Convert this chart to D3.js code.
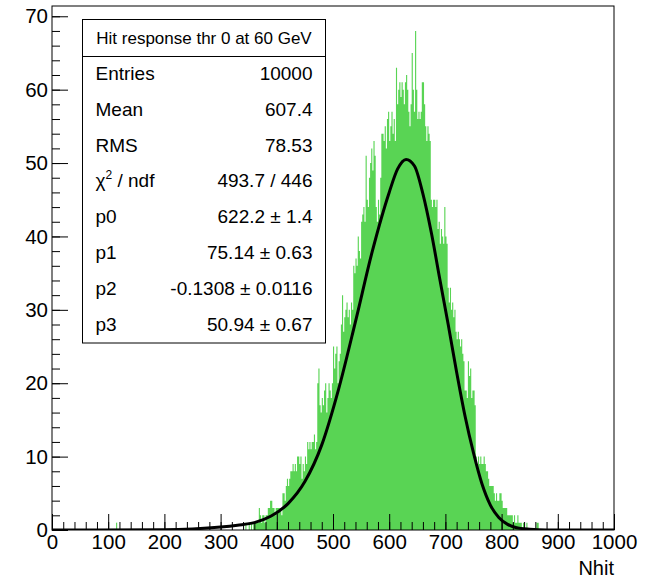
<!DOCTYPE html>
<html>
<head>
<meta charset="utf-8">
<script src="https://cdn.jsdelivr.net/npm/d3@7/dist/d3.min.js"></script>
<style>
  body { margin: 0; background: #fff; }
  svg { font-family: "Liberation Sans", Arial, Helvetica, sans-serif; }
</style>
</head>
<body>
<svg width="653" height="578"></svg>
<script>
// histogram: bins of 2 Nhit starting at 340
const binStart = 340;
const binWidth = 2;
const counts = [
  0,0,1,0,0,1,0,1,0,1,
  1,1,1,1,3,2,1,2,2,1,
  2,2,3,3,4,4,3,3,2,3,
  3,3,3,3,2,5,5,4,6,7,
  6,7,8,8,9,8,9,8,10,10,
  9,10,7,9,8,10,9,12,11,12,
  11,12,12,13,11,12,20,22,17,16,
  18,17,19,20,16,18,20,19,18,20,
  25,22,24,25,20,23,24,28,32,27,
  29,30,31,29,30,28,31,30,36,35,
  37,36,40,38,37,42,43,44,42,51,
  45,44,48,50,52,49,53,51,44,42,
  45,43,48,54,54,53,55,52,56,57,
  53,55,57,54,56,53,63,58,60,61,
  59,61,60,58,61,62,60,57,55,58,
  65,60,57,68,60,56,57,56,57,61,
  61,58,55,53,55,54,53,45,44,45,
  45,44,45,41,42,39,41,40,39,44,
  40,39,33,31,33,30,31,29,30,27,
  26,27,26,25,26,24,23,19,19,18,
  23,21,22,18,19,19,17,10,9,10,
  9,10,9,9,10,9,8,8,7,6,
  6,6,6,5,4,5,4,4,5,5,
  4,3,3,3,3,2,2,2,2,2,
  1,2,1,1,2,1,1,1,0,1,
  0,0,1,0,0,0,0,0,0,0,
  0,1,1,0,0,0,0,0,0,0
];
// lone entries outside the main block [nhit, count]
const strayBins = [[114, 1]];

// fit curve
const fitX = [0, 200, 250, 300, 330, 360, 390, 420, 450, 480, 510, 540, 570, 600, 615, 630, 645, 660, 675, 690, 705, 720, 735, 750, 765, 780, 795, 810, 825, 850, 880, 1000];
const fitY = [0, 0.05, 0.15, 0.4, 0.65, 1.0, 1.9, 3.6, 6.6, 11.6, 19.2, 28.4, 38.0, 46.0, 49.2, 50.5, 49.6, 45.8, 40.5, 34.2, 28.0, 21.5, 15.5, 10.5, 6.3, 3.4, 1.7, 0.8, 0.35, 0.1, 0, 0];

const xTicks = d3.range(0, 1001, 100);
const yTicks = d3.range(0, 71, 10);

const statTitle = 'Hit response thr 0 at 60 GeV';
const statLabels = ['Entries', 'Mean', 'RMS', 'χ2 / ndf', 'p0', 'p1', 'p2', 'p3'];
const statValues = ['10000', '607.4', '78.53', '493.7 / 446', '622.2 ± 1.4', '75.14 ± 0.63', '-0.1308 ± 0.0116', '50.94 ± 0.67'];

const svg = d3.select('svg');
const fLeft = 52, fRight = 614, fTop = 6, fBottom = 530;

let x = d3.scaleLinear().domain([0, 1000]).range([fLeft, fRight]);
let y = d3.scaleLinear().domain([0, 71.4]).range([fBottom, fTop]);

svg.append('defs').append('clipPath').attr('id', 'frame')
  .append('rect').attr('x', fLeft).attr('y', fTop).attr('width', fRight - fLeft).attr('height', fBottom - fTop);

// histogram as a step area
let bins = counts.map((n, i) => ({x0: binStart + i * binWidth, n: n}));
bins.push({x0: binStart + counts.length * binWidth, n: 0});
let area = d3.area().curve(d3.curveStepAfter)
  .x(d => x(d.x0)).y0(y(0)).y1(d => y(d.n));
let g = svg.append('g').attr('clip-path', 'url(#frame)');
g.append('path').datum(bins).attr('d', area).attr('fill', '#59d454');
g.selectAll('rect.stray').data(strayBins).enter().append('rect')
  .attr('class', 'stray')
  .attr('x', d => x(d[0])).attr('width', x(binWidth) - x(0))
  .attr('y', d => y(d[1])).attr('height', d => y(0) - y(d[1]))
  .attr('fill', '#59d454');

// frame
svg.append('rect').attr('x', fLeft).attr('y', fTop).attr('width', fRight - fLeft).attr('height', fBottom - fTop)
  .attr('fill', 'none').attr('stroke', '#000').attr('stroke-width', 1);

// axes
let xMinor = d3.axisBottom(x).tickValues(d3.range(0, 1001, 20)).tickSize(-8).tickFormat('');
let xAxis = d3.axisBottom(x).tickValues(xTicks).tickSize(-16).tickPadding(4).tickFormat(d3.format('d'));
let yMinor = d3.axisLeft(y).tickValues(d3.range(0, 71, 2)).tickSize(-8).tickFormat('');
let yAxis = d3.axisLeft(y).tickValues(yTicks).tickSize(-16).tickPadding(4).tickFormat(d3.format('d'));

svg.append('g').attr('transform', `translate(0,${fBottom})`).call(xMinor);
svg.append('g').attr('id', 'xAxisG').attr('transform', `translate(0,${fBottom})`).call(xAxis);
svg.append('g').attr('transform', `translate(${fLeft},0)`).call(yMinor);
svg.append('g').attr('id', 'yAxisG').attr('transform', `translate(${fLeft},0)`).call(yAxis);

svg.selectAll('.domain').remove();
svg.selectAll('.tick line').attr('stroke', '#000');
svg.selectAll('.tick text').attr('font-size', 20.5).attr('fill', '#000')
  .attr('font-family', '"Liberation Sans", Arial, sans-serif');

svg.append('text').attr('x', fRight).attr('y', 575).attr('text-anchor', 'end')
  .attr('font-size', 20).text('Nhit');

// fit function
let line = d3.line().curve(d3.curveMonotoneX).x((d, i) => x(fitX[i])).y(d => y(d));
svg.append('path').datum(fitY).attr('d', line).attr('clip-path', 'url(#frame)')
  .attr('fill', 'none').attr('stroke', '#000').attr('stroke-width', 3);

// stats box
let box = svg.append('g');
box.append('rect').attr('x', 82.5).attr('y', 19.5).attr('width', 243).attr('height', 323.5)
  .attr('fill', '#fff').attr('stroke', '#000');
box.append('line').attr('x1', 82.5).attr('x2', 325.5).attr('y1', 56.5).attr('y2', 56.5).attr('stroke', '#000');
box.append('text').attr('x', 204).attr('y', 44).attr('text-anchor', 'middle')
  .attr('font-size', 17).text(statTitle);
statLabels.forEach((s, i) => {
  let yy = 80 + i * 35.8;
  let t = box.append('text').attr('x', 95.5).attr('y', yy).attr('font-size', 19);
  if (s.startsWith('χ')) {
    t.append('tspan').text('χ');
    t.append('tspan').attr('font-size', 12).attr('dy', -8).text('2');
    t.append('tspan').attr('dy', 8).text(' / ndf');
  } else {
    t.text(s);
  }
  box.append('text').attr('x', 312.5).attr('y', yy).attr('text-anchor', 'end')
    .attr('font-size', 19).text(statValues[i]);
});
</script>
</body>
</html>
